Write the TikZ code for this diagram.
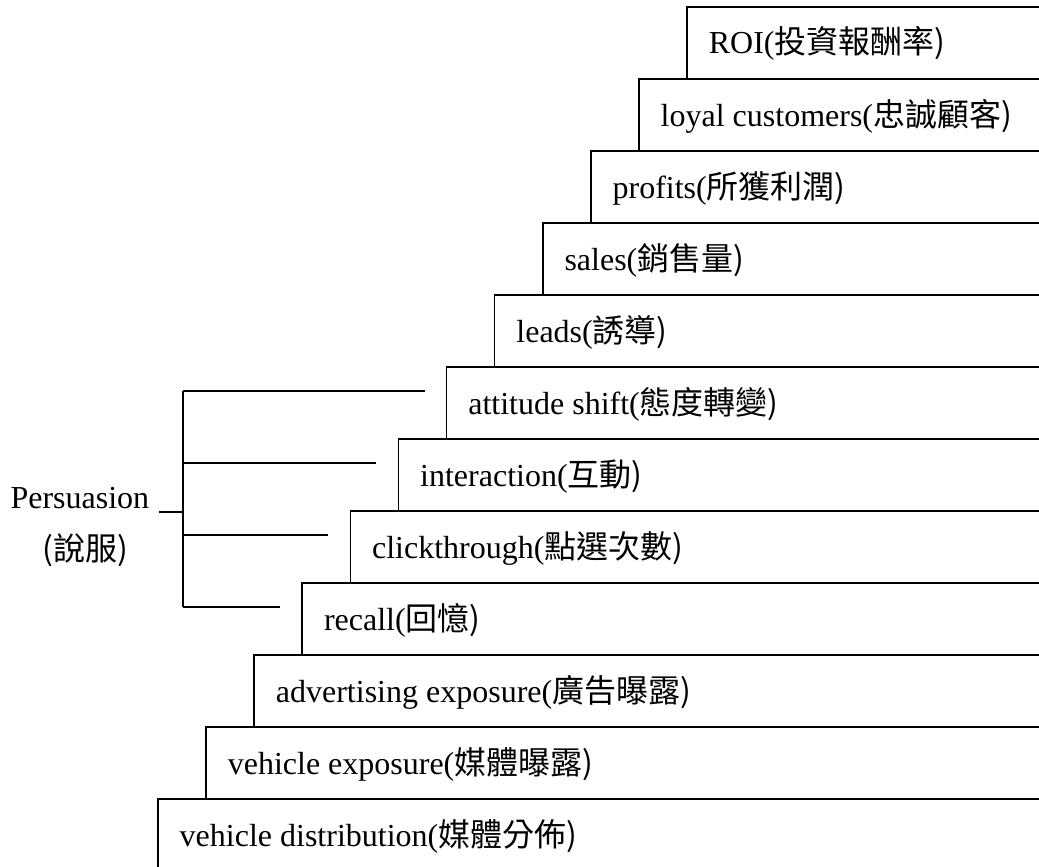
\documentclass[tikz,border=0pt]{standalone}
\usepackage{fontspec}
\setmainfont{Liberation Serif}
\newfontfamily\cjk{Noto Sans CJK TC}
\usetikzlibrary{calc}
\tikzset{steptext/.style={anchor=base west, inner sep=0pt, font=\fontsize{32}{38}\selectfont},
  labeltext/.style={inner sep=0pt, font=\fontsize{32}{38}\selectfont}}
\begin{document}
\begin{tikzpicture}[x=1pt, y=-1pt, line width=1.6pt]
\useasboundingbox (0,0) rectangle (1039,867);
\foreach \lbl [count=\i from 0] in {{ROI(\cjk 投資報酬率)}, {loyal customers(\cjk 忠誠顧客)},
  {profits(\cjk 所獲利潤)}, {sales(\cjk 銷售量)}, {leads(\cjk 誘導)},
  {attitude shift(\cjk 態度轉變)}, {interaction(\cjk 互動)},
  {clickthrough(\cjk 點選次數)}, {recall(\cjk 回憶)},
  {advertising exposure(\cjk 廣告曝露)}, {vehicle exposure(\cjk 媒體曝露)},
  {vehicle distribution(\cjk 媒體分佈)}}{
  \pgfmathsetmacro\lx{687-48.1*\i}
  \pgfmathsetmacro\ty{7+72*\i}
  \coordinate (c\i) at (\lx,\ty);
  \draw (1039,\ty) -- (c\i) -- (\lx,\ty+72);
  \path (c\i) ++(21,47) node[steptext] (s\i) {\lbl};
}
\node[labeltext, anchor=base east] (pers) at (150,508) {Persuasion};
\node[labeltext, anchor=base] (persz) at (85,560) {\cjk (說服)};
\coordinate (stub) at ($(pers.base east)+(9,4)$);
\coordinate (fork) at ($(stub)+(24,0)$);
\draw (stub) -- (fork);
\foreach \i in {5,...,8}
  \draw (c\i) ++(-22,24) coordinate (b\i) -- (b\i -| fork);
\draw (b5 -| fork) -- (b8 -| fork);
\end{tikzpicture}
\end{document}
